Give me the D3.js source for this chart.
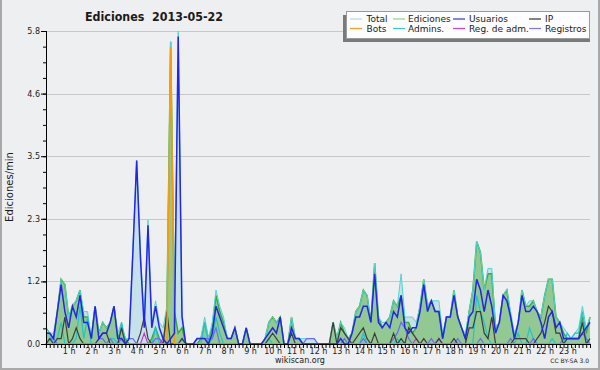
<!DOCTYPE html>
<html><head><meta charset="utf-8">
<script src="https://cdn.jsdelivr.net/npm/d3@7"></script>
<style>
body{margin:0;background:#eeeff0}
svg{display:block}
text{font-family:"DejaVu Sans",sans-serif;fill:#1a1a1a}
</style>
</head><body>
<svg id="c" width="600" height="370"></svg>
<script>
// 10-minute bins, 0h .. 24h (145 points)
const total=[
0.3,0.2,0.2,0.6,1.2,1.1, 0.5,0.7,0.8,1.0,0.6,0.6, 0.1,0.7,0.2,0.4,0.3,0.4, 0.7,0.2,0.4,0.1,0.1,1.8,
3.4,1.7,0.5,2.3,0.4,0.8, 0.4,0.3,0.7,5.6,0.7,5.8, 0.6,0,0,0,0.1,0.1, 0.5,0.1,0.4,1.0,0.7,0.5,
0.1,0.1,0.3,0,0,0.3, 0,0,0,0,0.1,0.4, 0.5,0.4,0.5,0,0,0.5, 0.1,0.1,0.1,0.1,0.1,0.1,
0,0,0,0,0.4,0.1, 0.4,0.3,0.1,0.2,0.6,0.7, 1.0,0.9,0.4,1.5,0.5,0.4, 0.4,0.5,0.8,0.7,1.3,0.5,
0.5,0.5,0.4,0.7,1.2,0.7, 0.8,0.8,0.8,0.2,0.5,0.5, 1.0,0.5,0.3,0.2,0.6,1.0, 1.9,1.7,1.0,1.4,1.4,0.3,
0.4,0.9,1.0,0.6,0.2,0.4, 1.0,0.7,0.8,0.8,0.6,0.5, 0.9,1.2,1.2,0.5,0.4,0.3, 0.2,0.1,0.2,0.3,0.7,0.3,0.5];
const ediciones=[
0.2,0.2,0.1,0.6,1.2,1.1, 0.5,0.7,0.8,1.0,0.5,0.5, 0.1,0.7,0.2,0.4,0.3,0.4, 0.7,0.1,0.3,0.1,0,0,
0,0,0,0,0.1,0.3, 0.1,0,0.6,5.6,0.6,0.2, 0.3,0,0,0,0,0.1, 0.4,0.1,0.3,0.9,0.6,0.4,
0.1,0.1,0.3,0,0,0.3, 0,0,0,0,0.1,0.4, 0.5,0.4,0.5,0,0,0.5, 0.1,0.1,0,0,0,0,
0,0,0,0,0.4,0.1, 0.4,0.2,0.1,0.2,0.6,0.7, 1.0,0.9,0.4,1.5,0.5,0.3, 0.4,0.5,0.8,0.7,0.9,0.4,
0.4,0.2,0.3,0.7,1.2,0.7, 0.8,0.6,0.6,0.1,0.5,0.5, 1.0,0.5,0.3,0.1,0.6,1.0, 1.9,1.7,1.0,1.3,1.3,0.3,
0.4,0.9,1.0,0.5,0.1,0.4, 1.0,0.7,0.7,0.8,0.6,0.5, 0.9,1.2,1.2,0.5,0.4,0.2, 0.1,0.1,0.1,0.1,0.5,0.2,0.5];
const usuarios=[
0.2,0.2,0.1,0.6,1.1,0.6, 0.3,0.7,0.5,0.9,0.4,0.4, 0.1,0.7,0.1,0.2,0.2,0.4, 0.7,0.1,0.1,0,0.1,1.7,
3.4,1.6,0.3,2.2,0.3,0.7, 0.3,0.1,0,0.1,0.2,5.7, 0.5,0,0,0,0.1,0.1, 0.1,0,0.2,0.7,0.5,0.3,
0.1,0.1,0.3,0,0,0.3, 0,0,0,0,0.1,0.2, 0.3,0.2,0.5,0,0,0.3, 0.1,0.1,0,0,0,0,
0,0,0,0,0,0, 0.1,0,0,0.2,0.5,0.5, 0.7,0.7,0.4,1.3,0.4,0.3, 0.4,0.3,0.6,0.5,0.9,0.3,
0.2,0.3,0.3,0.6,1.1,0.6, 0.8,0.6,0.6,0.1,0.5,0.5, 0.9,0.5,0.3,0.1,0.5,0.6, 1.2,1.0,0.6,1.0,0.7,0.2,
0.4,0.9,0.8,0.5,0.1,0.4, 0.9,0.6,0.6,0.7,0.6,0.4, 0.1,0.5,0.6,0.3,0.4,0.1, 0.1,0.1,0.1,0.1,0.2,0.3,0.4];
const ip=[
0,0.1,0,0.1,0.1,0.5, 0,0.1,0.3,0.1,0,0, 0,0,0.1,0.2,0.2,0, 0,0,0.3,0,0,0,
0,0.2,0.5,0.1,0,0, 0,0,0.6,0,0,0, 0.1,0,0,0,0,0, 0,0,0,0,0,0,
0,0,0,0,0,0, 0,0,0,0,0,0.1, 0.2,0.1,0,0,0,0.2, 0,0,0,0,0,0,
0,0,0,0,0.4,0, 0.3,0.2,0.1,0,0.1,0.2, 0.3,0.1,0,0.2,0,0, 0,0,0.2,0,0.1,0,
0.3,0.2,0.1,0,0.1,0, 0,0,0.1,0,0,0, 0.1,0,0,0,0.3,0.3, 0.6,0.6,0.2,0.1,0.5,0,
0,0,0,0,0.1,0.1, 0.1,0.1,0,0,0.1,0.2, 0.4,0.7,0.6,0.2,0.2,0, 0.1,0.1,0.1,0.1,0.4,0,0.1];
const bots=[
0,0,0,0,0,0, 0,0,0,0,0,0, 0,0,0,0,0,0, 0,0,0,0,0,0,
0,0,0,0,0,0, 0,0,0,5.5,0,0, 0,0,0,0,0,0, 0,0,0,0,0,0,
0,0,0,0,0,0, 0,0,0,0,0,0, 0,0,0,0,0,0, 0,0,0,0,0,0,
0,0,0,0,0,0, 0,0,0,0,0,0, 0,0,0,0,0,0, 0,0,0,0,0,0,
0,0,0,0,0,0, 0,0,0,0,0,0, 0,0,0,0,0,0, 0,0,0,0,0,0,
0,0,0,0,0,0, 0,0,0,0,0,0, 0,0,0,0,0,0, 0,0,0,0,0,0,0];
const admins=[
0.3,0.2,0,0.1,0.4,0, 0,0,0.1,0.7,0.1,0.5, 0,0,0,0,0,0.1, 0.1,0,0.4,0,0,0,
0,0,0,0,0,0.3, 0,0,0,0,0,0, 0,0,0,0,0,0, 0.4,0,0.1,0.5,0.2,0,
0,0,0,0,0,0, 0,0,0,0,0,0.1, 0,0,0,0,0,0, 0,0,0,0,0,0,
0,0,0,0,0,0, 0,0,0,0,0,0, 0.2,0,0,0,0,0, 0,0,0,0.1,0,0,
0,0,0,0,0,0, 0,0,0,0,0,0, 0,0,0,0,0,0, 0.9,0.6,0.4,0.1,0,0,
0,0,0,0,0,0.2, 0,0,0.3,0.1,0,0, 0,0,0.1,0,0,0, 0.2,0.1,0.2,0.2,0.6,0.1,0];
const regAdm=[
0,0,0,0,0,0, 0,0,0,0,0,0, 0,0,0,0,0,0, 0,0,0,0,0,0,
0,0,0.2,0,0,0, 0,0.1,0,0,0,0, 0,0,0,0,0,0, 0,0,0,0,0,0,
0,0,0,0,0,0, 0,0,0,0,0,0, 0,0,0,0,0,0, 0,0,0,0,0,0,
0,0,0,0,0,0, 0,0,0,0,0,0, 0,0,0,0,0,0, 0,0,0,0,0,0,
0,0,0.1,0,0,0, 0,0,0.1,0,0,0, 0,0,0,0,0,0, 0,0,0,0,0,0,
0,0,0,0,0,0, 0,0,0,0,0,0, 0,0,0,0,0,0, 0,0,0,0,0,0,0];
const registros=[
0,0.1,0.1,0,0,0, 0,0,0,0,0,0, 0,0,0.1,0.1,0,0.1, 0,0,0.1,0,0.1,0.1,
0,0,0,0,0,0.1, 0.1,0,0,0,0,0, 0.1,0,0,0,0.1,0.1, 0.1,0.1,0.1,0.3,0,0,
0,0,0,0,0,0, 0,0,0,0,0,0, 0,0,0,0,0,0, 0,0,0,0.1,0.1,0.1,
0,0,0,0,0,0, 0,0.1,0,0,0,0, 0.1,0,0,0,0,0, 0,0,0.1,0.2,0.4,0.3,
0.1,0,0,0,0,0, 0.1,0,0,0,0,0, 0,0.1,0,0,0,0, 0,0.1,0,0,0,0,
0,0,0,0.1,0,0, 0,0,0,0.1,0,0, 0,0,0,0,0,0.1, 0.1,0.1,0.1,0.1,0.2,0.1,0];

const hourIdx=[6,12,18,24,30,36,42,48,54,60,66,72,78,84,90,96,102,108,114,120,126,132,138];
const hourLabels=["1 h","2 h","3 h","4 h","5 h","6 h","7 h","8 h","9 h","10 h","11 h","12 h",
"13 h","14 h","15 h","16 h","17 h","18 h","19 h","20 h","21 h","22 h","23 h"];
const yTickLabels=["0.0","1.2","2.3","3.5","4.6","5.8"];
const legendNames=["Total","Ediciones","Usuarios","IP","Bots","Admins.","Reg. de adm.","Registros"];
const legendColors=["#a9dde2","#8fd08f","#3535e0","#333333","#ff9a22","#3cc8cc","#cc40cc","#7c7cf0"];

const svg=d3.select("#c");
const L=46,R=590,T=31,B=344;
svg.append("rect").attr("width",600).attr("height",370).attr("fill","#eeeff0");
// frame
svg.append("path").attr("d","M1,0V369H599V0").attr("fill","none").attr("stroke","#a9a9a9").attr("stroke-width",2);

const x=d3.scaleLinear().domain([0,144]).range([L,R]);
const yMax=d3.max(total);
const y=d3.scaleLinear().domain([0,yMax]).range([B,T]);
const majorVals=yTickLabels.map((s,k)=>yMax*k/5);
const minorVals=d3.range(0,21).map(k=>yMax*k/20);

// grid
svg.append("g").selectAll("line").data(majorVals.slice(1)).join("line")
 .attr("x1",L).attr("x2",R).attr("y1",d=>Math.round(y(d))+0.5).attr("y2",d=>Math.round(y(d))+0.5)
 .attr("stroke","#c8c8c8").attr("stroke-width",1);

const area=v=>d3.area().x((d,i)=>x(i)).y0(y(0)).y1(d=>y(d))(v);
const line=v=>d3.line().x((d,i)=>x(i)).y(d=>y(d))(v);

svg.append("path").attr("d",area(total)).attr("fill","#c7e1ea");
svg.append("path").attr("d",area(ediciones)).attr("fill","#92c992");
svg.append("path").attr("d",line(ediciones)).attr("fill","none").attr("stroke","#3aab3a").attr("stroke-width",1.5);
svg.append("path").attr("d",line(total)).attr("fill","none").attr("stroke","#52d4d4").attr("stroke-width",1);
svg.append("path").attr("d",line(admins)).attr("fill","none").attr("stroke","#22c4c8").attr("stroke-width",1.2);
svg.append("path").attr("d",line(registros)).attr("fill","none").attr("stroke","#6a6af5").attr("stroke-width",1.2);
svg.append("path").attr("d",line(regAdm)).attr("fill","none").attr("stroke","#cc33cc").attr("stroke-width",1.2);
svg.append("path").attr("d",line(ip)).attr("fill","none").attr("stroke","#3c3c3c").attr("stroke-width",1.2);
svg.append("path").attr("d",line(bots)).attr("fill","none").attr("stroke","#ff9900").attr("stroke-width",1.5);
svg.append("path").attr("d",line(usuarios)).attr("fill","none").attr("stroke","#2424ea").attr("stroke-width",1.5);

// axes
const fmt=(d,i)=>yTickLabels[i];
const yMinor=svg.append("g").attr("transform",`translate(${L},0)`)
 .call(d3.axisLeft(y).tickValues(minorVals).tickSize(3).tickFormat(""));
const yMajor=svg.append("g").attr("transform",`translate(${L},0)`)
 .call(d3.axisLeft(y).tickValues(majorVals).tickSize(5).tickPadding(1).tickFormat(fmt));
[yMinor,yMajor].forEach(g=>{g.select(".domain").attr("stroke","#000");g.selectAll("line").attr("stroke","#000");});
yMajor.selectAll("text").attr("font-size",8).attr("font-family","DejaVu Sans").attr("fill","#222");

const xTicks=svg.append("g").attr("transform",`translate(0,${B})`)
 .call(d3.axisBottom(x).tickValues(d3.range(0,145)).tickSize(4).tickFormat("").tickSizeOuter(0));
xTicks.select(".domain").attr("stroke","#000");
xTicks.selectAll("line").attr("stroke","#000");
const xLab=svg.append("g").attr("transform",`translate(0,${B})`)
 .call(d3.axisBottom(x).tickValues(hourIdx).tickSize(0).tickPadding(4).tickFormat((d,i)=>hourLabels[i]));
xLab.select(".domain").remove();
xLab.selectAll("text").attr("font-size",8).attr("font-family","DejaVu Sans").attr("fill","#222");

// y title
svg.append("text").attr("transform","translate(13,187) rotate(-90)").attr("text-anchor","middle")
 .attr("font-family","DejaVu Sans Mono").attr("font-size",10).text("Ediciones/min");

// title
svg.append("text").attr("x",85).attr("y",21).attr("font-weight","bold").attr("font-size",11.5)
 .attr("textLength",138).attr("lengthAdjust","spacingAndGlyphs").text("Ediciones\u00a0 2013-05-22");

// footer
svg.append("text").attr("x",300).attr("y",363).attr("text-anchor","middle").attr("font-size",8).attr("fill","#333").text("wikiscan.org");
svg.append("text").attr("x",589).attr("y",363).attr("text-anchor","end").attr("font-size",6)
 .attr("font-family","Liberation Sans").attr("fill","#333").text("CC BY-SA 3.0");

// legend
svg.append("rect").attr("x",343).attr("y",15).attr("width",247).attr("height",27).attr("fill","#7a7a7a");
svg.append("rect").attr("x",346.5).attr("y",11.5).attr("width",243).attr("height",27)
 .attr("fill","#fdfdfd").attr("stroke","#9a9a9a").attr("stroke-width",1);
const colX=[350,393,453,529];
const lg=svg.append("g").selectAll("g").data(legendNames).join("g")
 .attr("transform",(d,i)=>`translate(${colX[i%4]},${i<4?19:28.5})`);
lg.append("line").attr("x1",0).attr("x2",12).attr("y1",0).attr("y2",0)
 .attr("stroke",(d,i)=>legendColors[i]).attr("stroke-width",1.2);
lg.append("text").attr("x",(d,i)=>[16.5,15,16,16][i%4]).attr("y",3.2).attr("font-size",9).text(d=>d);
</script>
</body></html>
